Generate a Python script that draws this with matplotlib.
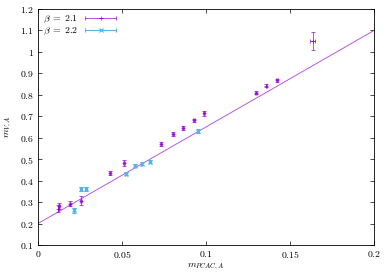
import matplotlib
matplotlib.use("Agg")
import matplotlib.pyplot as plt
import numpy as np
from matplotlib.ticker import FuncFormatter
from matplotlib.container import ErrorbarContainer
from matplotlib.legend_handler import HandlerErrorbar

plt.rcParams['mathtext.fontset'] = 'cm'
plt.rcParams['font.family'] = ['DejaVu Serif']

# beta = 2.1
x21 = [0.0122, 0.0125, 0.0190, 0.0256, 0.0429, 0.0512, 0.0734, 0.0804, 0.0865, 0.0927, 0.0990, 0.1298, 0.1360, 0.1423, 0.1635]
y21 = [0.270, 0.282, 0.292, 0.307, 0.437, 0.482, 0.572, 0.617, 0.645, 0.681, 0.713, 0.809, 0.843, 0.867, 1.052]
ye21 = [0.015, 0.012, 0.012, 0.020, 0.010, 0.012, 0.010, 0.010, 0.008, 0.008, 0.010, 0.007, 0.007, 0.007, 0.043]
xe21 = [0.0005, 0.0005, 0.0008, 0.0005, 0.0005, 0.0005, 0.0005, 0.0005, 0.0005, 0.0005, 0.0005, 0.0005, 0.0005, 0.0005, 0.0016]

# beta = 2.2
x22 = [0.0216, 0.0256, 0.0284, 0.0522, 0.0575, 0.0617, 0.0665, 0.0951]
y22 = [0.261, 0.362, 0.362, 0.432, 0.470, 0.479, 0.488, 0.631]
ye22 = [0.010, 0.010, 0.010, 0.008, 0.008, 0.008, 0.008, 0.008]
xe22 = [0.0005, 0.0005, 0.0005, 0.0005, 0.0005, 0.0005, 0.0005, 0.0005]

# linear fit line
fit_intercept = 0.20
fit_slope = 4.5

xticks = [0, 0.05, 0.1, 0.15, 0.2]
yticks = [0.1, 0.2, 0.3, 0.4, 0.5, 0.6, 0.7, 0.8, 0.9, 1.0, 1.1, 1.2]

c21 = '#9400d3'
c22 = '#56b4e9'

fig = plt.figure(figsize=(3.9, 2.73), dpi=100)
ax = fig.add_axes([0.0974, 0.1026, 0.8616, 0.8644])

xf = np.array([0.0, 0.2])
ax.plot(xf, fit_intercept + fit_slope * xf, color=c21, lw=0.6, alpha=0.75)

ax.errorbar(x21, y21, yerr=ye21, xerr=xe21, fmt='+', color=c21, ms=3, mew=0.6,
            elinewidth=0.6, capsize=1.5, capthick=0.6, label=r'$\beta\;=\;2.1$', alpha=0.8)
ax.errorbar(x22, y22, yerr=ye22, xerr=xe22, fmt='x', color=c22, ms=2.5, mew=0.8,
            elinewidth=0.8, capsize=1.5, capthick=0.8, label=r'$\beta\;=\;2.2$')

ax.set_xlim(0, 0.2)
ax.set_ylim(0.1, 1.2)
ax.set_xticks(xticks)
ax.set_yticks(yticks)

def fmt(v, pos):
    s = ('%g' % round(v, 3))
    return r'$%s$' % s

ax.xaxis.set_major_formatter(FuncFormatter(fmt))
ax.yaxis.set_major_formatter(FuncFormatter(fmt))
ax.tick_params(direction='in', top=True, right=True, length=3, width=0.5, labelsize=7, pad=3)
for s in ax.spines.values():
    s.set_linewidth(0.6)

ax.set_xlabel(r'$m_{PCAC,A}$', fontsize=7, labelpad=1)
ax.set_ylabel(r'$m_{V,A}$', fontsize=7, labelpad=4)

ax.legend(loc='upper left', frameon=False, fontsize=7, markerfirst=False,
          handlelength=3.5, borderaxespad=0.1, handletextpad=0.6, labelspacing=0.1,
          handler_map={ErrorbarContainer: HandlerErrorbar(xerr_size=1.6, yerr_size=0.001)})

fig.savefig('out.png', dpi=100)
